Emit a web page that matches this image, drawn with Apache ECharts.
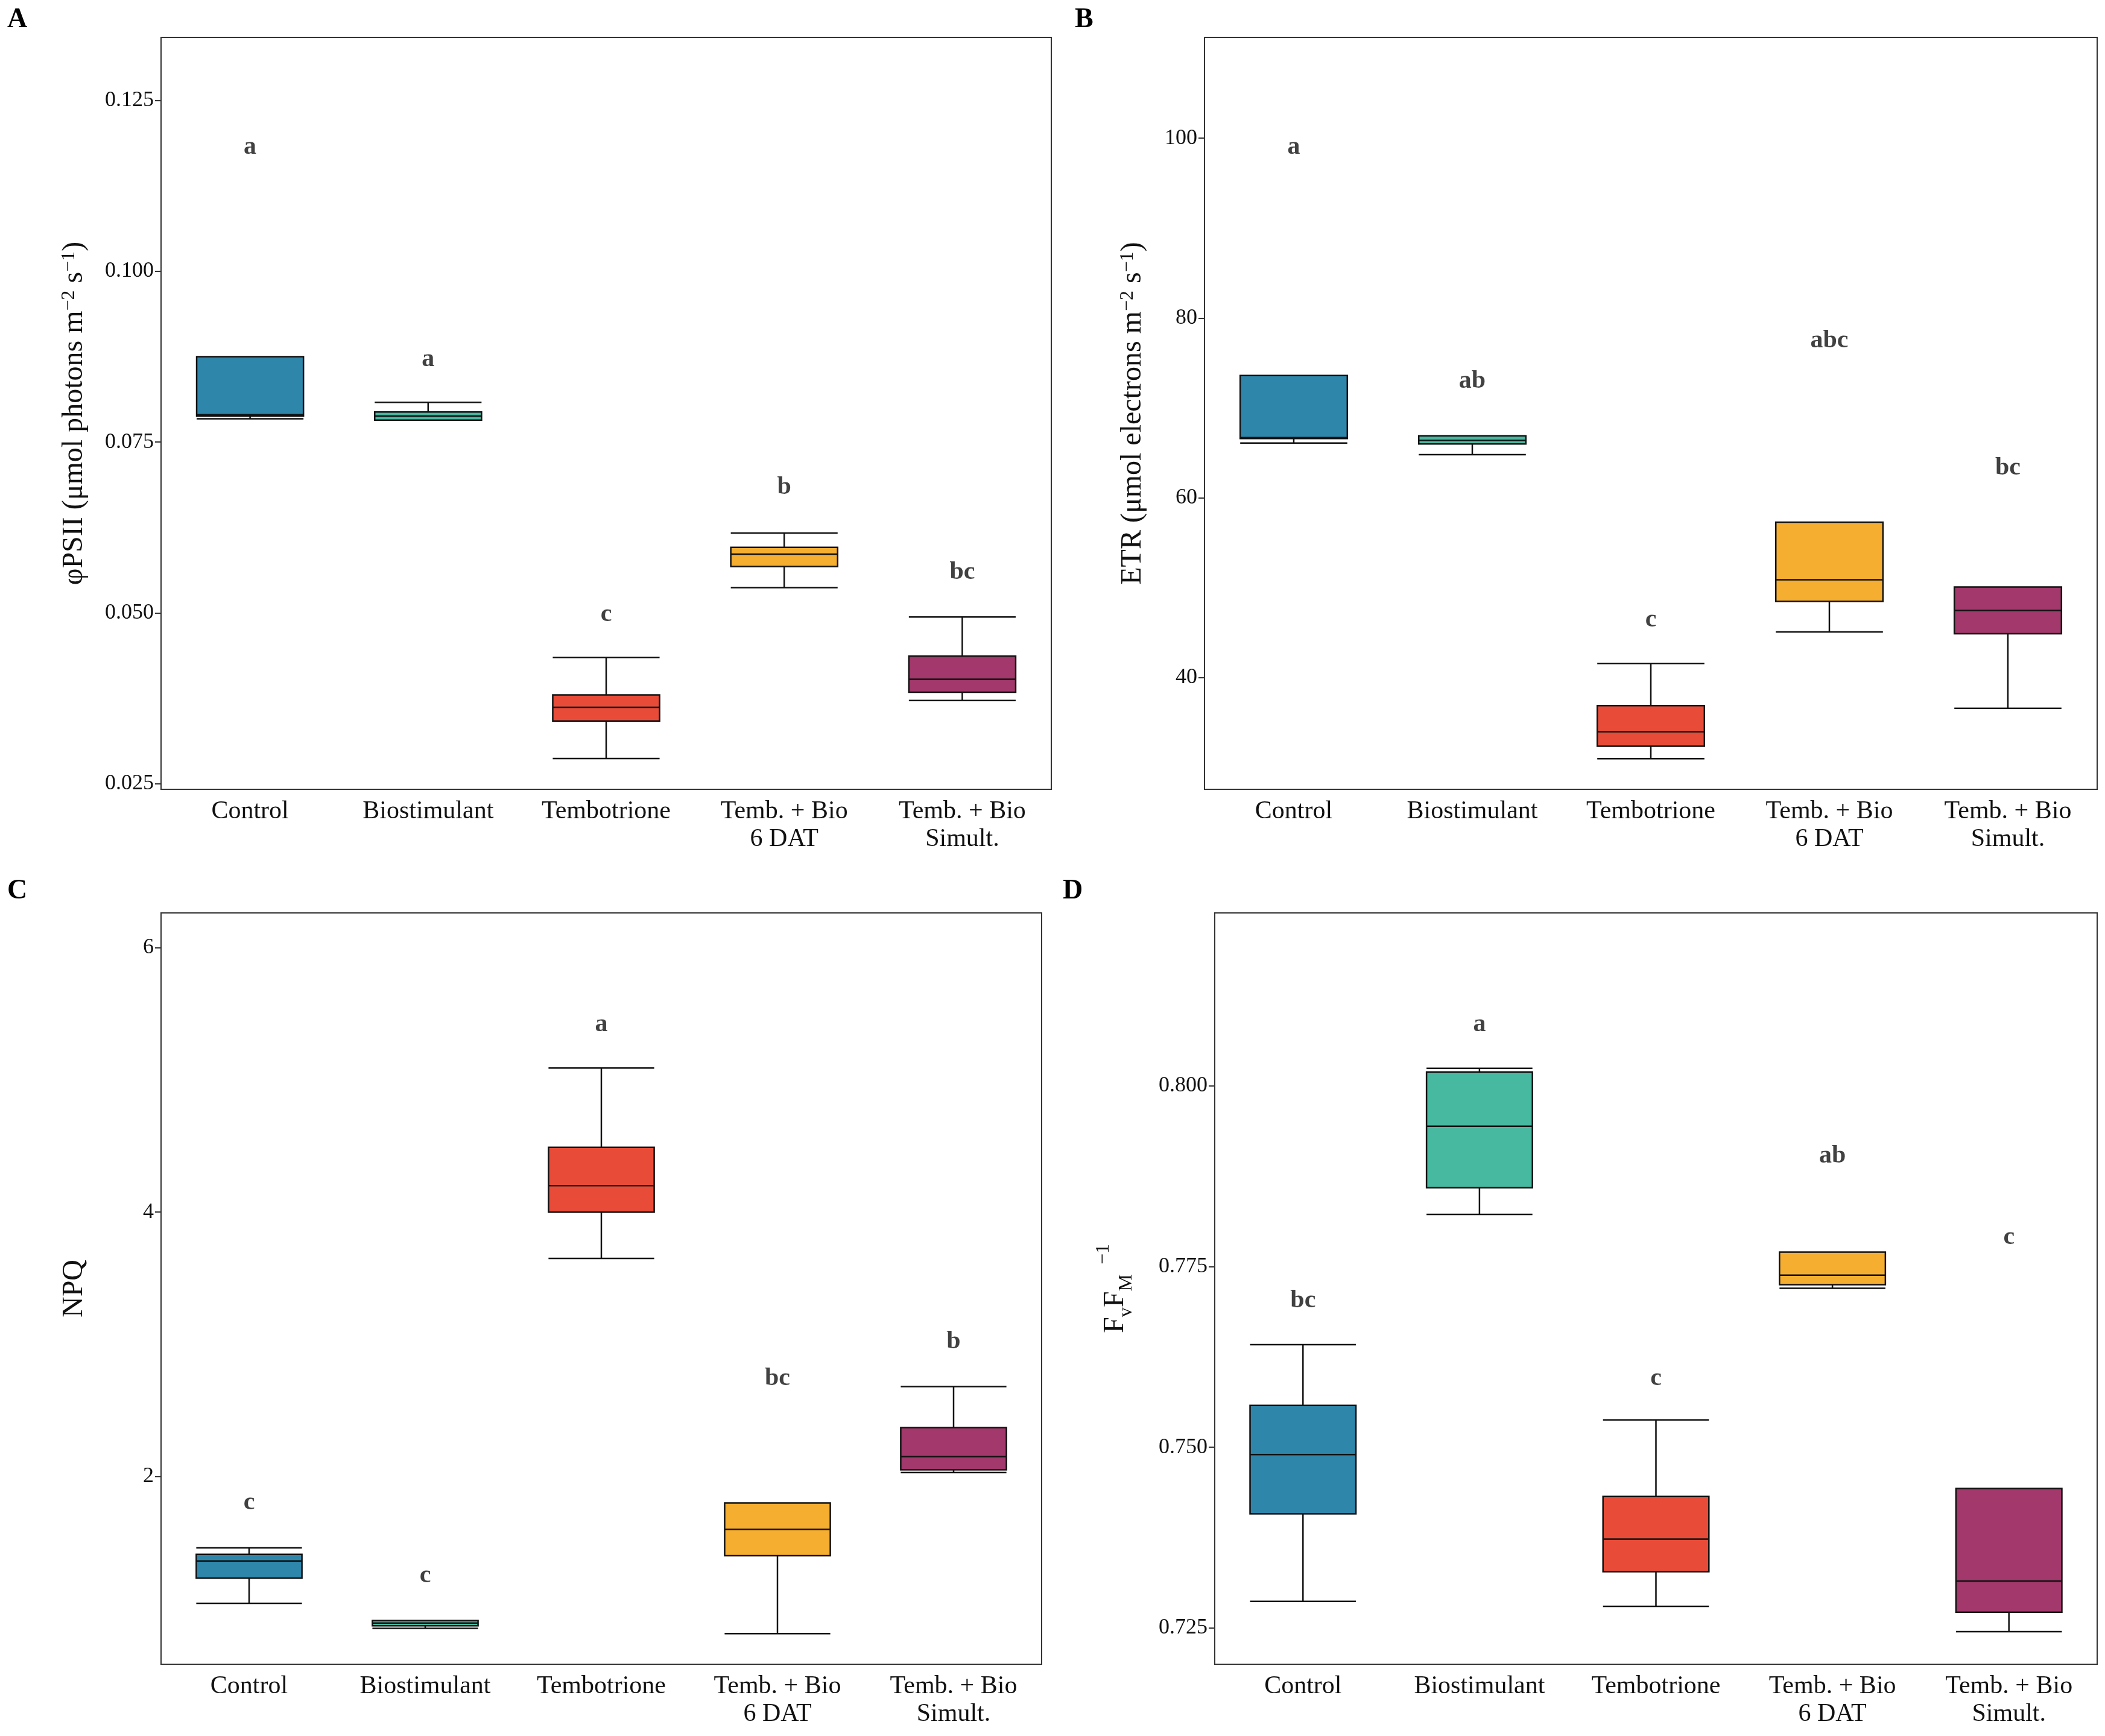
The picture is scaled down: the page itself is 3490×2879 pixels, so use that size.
<!DOCTYPE html>
<html>
<head>
<meta charset="utf-8">
<script src="https://cdn.jsdelivr.net/npm/echarts@6/dist/echarts.min.js"></script>
<style>html,body{margin:0;background:#fff}#main{width:3490px;height:2879px}</style>
</head>
<body>
<div id="main"></div>
<script>
// treatments and colours
const categories = ['Control', 'Biostimulant', 'Tembotrione', 'Temb. + Bio\n6 DAT', 'Temb. + Bio\nSimult.'];
const colors = ['#2e86ab', '#47b9a0', '#e84c38', '#f5ae30', '#a2386b'];

// [min, Q1, median, Q3, max]
const phiPSII = [
  [0.0784, 0.0788, 0.0790, 0.0875, 0.0875],
  [0.0782, 0.0782, 0.0788, 0.0794, 0.0808],
  [0.0287, 0.0342, 0.0362, 0.0380, 0.0435],
  [0.0537, 0.0568, 0.0586, 0.0596, 0.0617],
  [0.0372, 0.0384, 0.0403, 0.0437, 0.0494]
];
const phiLetters = ['a', 'a', 'c', 'b', 'bc'];
const phiLetterY = [0.1181, 0.0871, 0.0498, 0.0684, 0.0559];

const etr = [
  [66.1, 66.6, 66.7, 73.6, 73.6],
  [64.8, 66.0, 66.4, 66.9, 66.9],
  [31.0, 32.4, 34.0, 36.9, 41.6],
  [45.1, 48.5, 50.9, 57.3, 57.3],
  [36.6, 44.9, 47.5, 50.1, 50.1]
];
const etrLetters = ['a', 'ab', 'c', 'abc', 'bc'];
const etrLetterY = [99.0, 73.0, 46.4, 77.5, 63.3];

const npq = [
  [1.04, 1.23, 1.36, 1.41, 1.46],
  [0.85, 0.87, 0.89, 0.91, 0.91],
  [3.65, 4.00, 4.20, 4.49, 5.09],
  [0.81, 1.40, 1.60, 1.80, 1.80],
  [2.03, 2.05, 2.15, 2.37, 2.68]
];
const npqLetters = ['c', 'c', 'a', 'bc', 'b'];
const npqLetterY = [1.80, 1.25, 5.42, 2.74, 3.02];

const fvfm = [
  [0.7287, 0.7408, 0.7490, 0.7558, 0.7642],
  [0.7822, 0.7859, 0.7944, 0.8019, 0.8024],
  [0.7280, 0.7328, 0.7373, 0.7432, 0.7538],
  [0.7720, 0.7725, 0.7738, 0.7770, 0.7770],
  [0.7245, 0.7272, 0.7315, 0.7443, 0.7443]
];
const fvfmLetters = ['bc', 'a', 'c', 'ab', 'c'];
const fvfmLetterY = [0.7703, 0.8085, 0.7595, 0.7903, 0.7790];

const font = 'Liberation Serif';
const chart = echarts.init(document.getElementById('main'));

const panels = [
  { grid: { left: 267, right: 1747, top: 62, bottom: 1570 }, data: phiPSII, letters: phiLetters, ly: phiLetterY,
    min: 0.0242, max: 0.1342, interval: 0.025, fmt: v => v.toFixed(3),
    name: 'φPSII (μmol photons m{sup|−2} s{sup|−1})', gap: 120 },
  { grid: { left: 1997, right: 13, top: 62, bottom: 1570 }, data: etr, letters: etrLetters, ly: etrLetterY,
    min: 27.6, max: 111.2, interval: 20, fmt: v => String(Math.round(v)),
    name: 'ETR (μmol electrons m{sup|−2} s{sup|−1})', gap: 95 },
  { grid: { left: 267, right: 1763, top: 1514, bottom: 119 }, data: npq, letters: npqLetters, ly: npqLetterY,
    min: 0.579, max: 6.264, interval: 2, fmt: v => String(Math.round(v)),
    name: 'NPQ', gap: 120 },
  { grid: { left: 2014, right: 13, top: 1514, bottom: 119 }, data: fvfm, letters: fvfmLetters, ly: fvfmLetterY,
    min: 0.72, max: 0.8239, interval: 0.025, fmt: v => v.toFixed(3),
    name: 'F{sub|v}F{sub|M}{sup|  −1}', gap: 130 }
];

const option = {
  backgroundColor: '#fff',
  textStyle: { fontFamily: font },
  grid: [], xAxis: [], yAxis: [], series: [],
  graphic: [
    { type: 'text', left: 12, top: 10, style: { text: 'A', font: 'bold 46px ' + font, fill: '#000' } },
    { type: 'text', left: 1782, top: 10, style: { text: 'B', font: 'bold 46px ' + font, fill: '#000' } },
    { type: 'text', left: 12, top: 1455, style: { text: 'C', font: 'bold 46px ' + font, fill: '#000' } },
    { type: 'text', left: 1762, top: 1455, style: { text: 'D', font: 'bold 46px ' + font, fill: '#000' } }
  ]
};

panels.forEach(function (p, i) {
  option.grid.push(Object.assign({ show: true, borderColor: '#333', borderWidth: 2, backgroundColor: 'transparent' }, p.grid));
  option.xAxis.push({
    type: 'category', gridIndex: i, data: categories,
    axisLine: { lineStyle: { color: '#333', width: 2 } },
    axisTick: { alignWithLabel: true, length: 10, lineStyle: { color: '#333', width: 2 } },
    axisLabel: { color: '#111', fontSize: 42, fontFamily: font, lineHeight: 46, margin: 14, interval: 0 },
    splitLine: { show: false }
  });
  // lift min to a multiple of the interval for tick placement
  option.yAxis.push({
    type: 'value', gridIndex: i, min: p.min, max: p.max, interval: p.interval,
    axisLabel: {
      color: '#111', fontSize: 36, fontFamily: font, margin: 12,
      formatter: function (v) {
        const r = Math.round(v / p.interval) * p.interval;
        return Math.abs(r - v) < p.interval * 1e-6 ? p.fmt(v) : '';
      },
      showMinLabel: false, showMaxLabel: false
    },
    axisLine: { show: true, lineStyle: { color: '#333', width: 2 } },
    axisTick: { show: false },
    splitLine: { show: false },
    name: p.name, nameLocation: 'middle', nameGap: p.gap, nameRotate: 90,
    nameTextStyle: {
      color: '#111', fontSize: 48, fontFamily: font,
      rich: {
        sup: { fontSize: 32, verticalAlign: 'top', lineHeight: 40, fontFamily: font, color: '#111' },
        sub: { fontSize: 32, verticalAlign: 'bottom', lineHeight: 70, fontFamily: font, color: '#111' }
      }
    }
  });
  // custom tick marks at multiples of interval
  option.series.push({
    type: 'boxplot', xAxisIndex: i, yAxisIndex: i, boxWidth: ['60%', '60%'],
    data: p.data.map((d, k) => ({ value: d, itemStyle: { color: colors[k], borderColor: '#111', borderWidth: 2.5 } })),
    emphasis: { disabled: true }
  });
  option.series.push({
    type: 'scatter', xAxisIndex: i, yAxisIndex: i, symbolSize: 1, itemStyle: { color: 'transparent' },
    data: p.ly.map((y, k) => [k, y]),
    label: {
      show: true, position: 'inside', fontSize: 42, fontWeight: 'bold', fontFamily: font, color: '#111',
      formatter: q => p.letters[q.dataIndex]
    }
  });
});

// y-axis ticks at proper values via a side-axis trick is unnecessary: tick marks drawn through markLine-free approach
option.yAxis.forEach(function (ax, i) {
  const p = panels[i];
  const start = Math.ceil(p.min / p.interval) * p.interval;
  ax.min = p.min;
  ax.interval = null;
  const vals = [];
  for (let v = start; v <= p.max + 1e-9; v += p.interval) vals.push(+v.toFixed(6));
  ax.axisLabel.customValues = vals;
  ax.axisTick = { show: true, length: 10, lineStyle: { color: '#333', width: 2 }, customValues: vals };
  ax.axisLabel.formatter = v => p.fmt(v);
  ax.axisLabel.showMinLabel = null;
  ax.axisLabel.showMaxLabel = null;
});

chart.setOption(option);
</script>
</body>
</html>
